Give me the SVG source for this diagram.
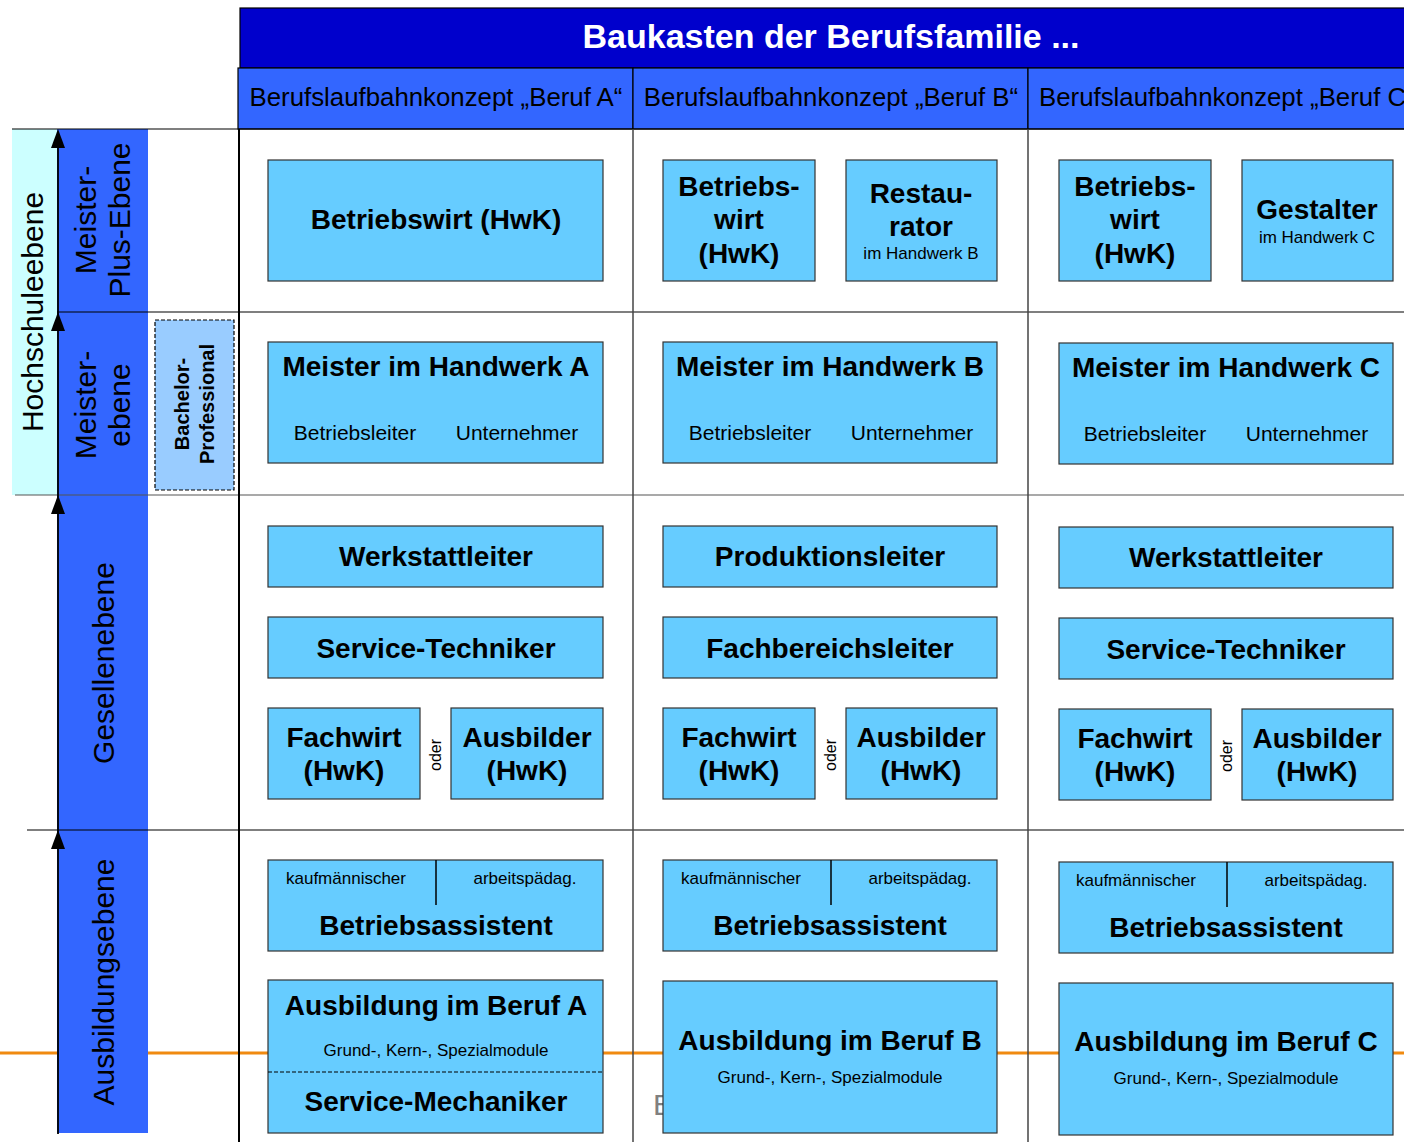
<svg xmlns="http://www.w3.org/2000/svg" width="1404" height="1142" viewBox="0 0 1404 1142">
<style>
text{font-family:"Liberation Sans",Arial,sans-serif;fill:#000}
.n{fill:#66CCFF;stroke:#333;stroke-width:1.2}
.b{font-weight:bold;font-size:28px;text-anchor:middle}
.s{font-size:17px;text-anchor:middle}
.m{font-size:21px;text-anchor:middle}
.h{font-size:25.8px;text-anchor:middle}
.lv{font-size:30px;text-anchor:middle}
.grid{stroke:#000;stroke-width:1.2;fill:none}
</style>
<defs>
<path id="ah" d="M0,0 L-7,19 L7,19 Z" fill="#000"/>
</defs>
<rect width="1404" height="1142" fill="#fff"/>
<line x1="0" y1="1053" x2="1404" y2="1053" stroke="#F08A10" stroke-width="3"/>
<text x="653" y="1115" style="font-size:30px;fill:#808080">E</text>

<g id="title">
<rect x="240" y="8" width="1170" height="60" fill="#0000CC" stroke="#000" stroke-width="1.2"/>
<text x="831" y="48" style="font-size:34px;font-weight:bold;fill:#fff;text-anchor:middle">Baukasten der Berufsfamilie ...</text>
</g>
<g id="headers">
<rect x="238" y="68" width="395" height="61" fill="#3366FF" stroke="#000" stroke-width="1.2"/>
<rect x="633" y="68" width="395" height="61" fill="#3366FF" stroke="#000" stroke-width="1.2"/>
<rect x="1028" y="68" width="390" height="61" fill="#3366FF" stroke="#000" stroke-width="1.2"/>
<text x="436" y="106" class="h">Berufslaufbahnkonzept „Beruf A“</text>
<text x="831" y="106" class="h">Berufslaufbahnkonzept „Beruf B“</text>
<text x="1039" y="106" style="font-size:25.8px">Berufslaufbahnkonzept „Beruf C“</text>
</g>

<g id="levels">
<rect x="12" y="129" width="45" height="366" fill="#CCFFFF"/>
<rect x="57" y="129" width="91" height="1004" fill="#3366FF"/>
<text transform="translate(43,312) rotate(-90)" class="lv">Hochschuleebene</text>
<text transform="translate(96,220) rotate(-90)" class="lv">Meister-</text>
<text transform="translate(130,220) rotate(-90)" class="lv">Plus-Ebene</text>
<text transform="translate(96,405) rotate(-90)" class="lv">Meister-</text>
<text transform="translate(130,405) rotate(-90)" class="lv">ebene</text>
<text transform="translate(114,663) rotate(-90)" class="lv">Gesellenebene</text>
<text transform="translate(114,982) rotate(-90)" class="lv">Ausbildungsebene</text>
</g>

<g id="grid">
<line x1="12" y1="129" x2="1404" y2="129" class="grid"/>
<line x1="57" y1="312" x2="1404" y2="312" class="grid"/>
<line x1="15" y1="495" x2="1404" y2="495" stroke="#555" stroke-width="1.2"/>
<line x1="27" y1="830" x2="1404" y2="830" class="grid"/>
<line x1="239" y1="129" x2="239" y2="1142" stroke="#000" stroke-width="2"/>
<line x1="633" y1="129" x2="633" y2="1142" stroke="#444" stroke-width="1.5"/>
<line x1="1028" y1="129" x2="1028" y2="1142" stroke="#444" stroke-width="1.5"/>
</g>

<g id="connectors">
<line x1="58" y1="135" x2="58" y2="1134" stroke="#000" stroke-width="1.8"/>
<use href="#ah" x="58" y="129"/>
<use href="#ah" x="58" y="312"/>
<use href="#ah" x="58" y="495"/>
<use href="#ah" x="58" y="830"/>
</g>

<g id="bachelor">
<rect x="155" y="320" width="79" height="170" fill="#99CCFF" stroke="#000" stroke-width="1.2" stroke-dasharray="4,2"/>
<text transform="translate(189,404) rotate(-90)" style="font-size:20px;font-weight:bold;text-anchor:middle">Bachelor-</text>
<text transform="translate(214,404) rotate(-90)" style="font-size:20px;font-weight:bold;text-anchor:middle">Professional</text>
</g>

<!-- Column A -->
<g id="a-betriebswirt"><rect x="268" y="160" width="335" height="121" class="n"/><text x="436" y="229" class="b">Betriebswirt (HwK)</text></g>
<g id="a-meister"><rect x="268" y="342" width="335" height="121" class="n"/><text x="436" y="376" class="b">Meister im Handwerk A</text><text x="355" y="440" class="m">Betriebsleiter</text><text x="517" y="440" class="m">Unternehmer</text></g>
<g id="a-werkstatt"><rect x="268" y="526" width="335" height="61" class="n"/><text x="436" y="566" class="b">Werkstattleiter</text></g>
<g id="a-service"><rect x="268" y="617" width="335" height="61" class="n"/><text x="436" y="658" class="b">Service-Techniker</text></g>
<g id="a-fachwirt"><rect x="268" y="708" width="152" height="91" class="n"/><text x="344" y="747" class="b">Fachwirt</text><text x="344" y="780" class="b">(HwK)</text></g>
<text transform="translate(441,755) rotate(-90)" style="font-size:16px;text-anchor:middle">oder</text>
<g id="a-ausbilder"><rect x="451" y="708" width="152" height="91" class="n"/><text x="527" y="747" class="b">Ausbilder</text><text x="527" y="780" class="b">(HwK)</text></g>
<g id="a-assistent"><rect x="268" y="860" width="335" height="91" class="n"/><line x1="436" y1="860" x2="436" y2="905" stroke="#000" stroke-width="1.5"/><text x="346" y="884" class="s">kaufmännischer</text><text x="525" y="884" class="s">arbeitspädag.</text><text x="436" y="935" class="b">Betriebsassistent</text></g>
<g id="a-ausbildung"><rect x="268" y="980" width="335" height="153" class="n"/><text x="436" y="1015" class="b">Ausbildung im Beruf A</text><text x="436" y="1056" class="s">Grund-, Kern-, Spezialmodule</text><line x1="268" y1="1072" x2="603" y2="1072" stroke="#000" stroke-width="1.2" stroke-dasharray="4,2"/><text x="436" y="1111" class="b">Service-Mechaniker</text></g>

<!-- Column B -->
<g id="b-betriebswirt"><rect x="663" y="160" width="152" height="121" class="n"/><text x="739" y="196" class="b">Betriebs-</text><text x="739" y="229" class="b">wirt</text><text x="739" y="263" class="b">(HwK)</text></g>
<g id="b-restaurator"><rect x="846" y="160" width="151" height="121" class="n"/><text x="921" y="203" class="b">Restau-</text><text x="921" y="236" class="b">rator</text><text x="921" y="259" class="s">im Handwerk B</text></g>
<g id="b-meister"><rect x="663" y="342" width="334" height="121" class="n"/><text x="830" y="376" class="b">Meister im Handwerk B</text><text x="750" y="440" class="m">Betriebsleiter</text><text x="912" y="440" class="m">Unternehmer</text></g>
<g id="b-produktion"><rect x="663" y="526" width="334" height="61" class="n"/><text x="830" y="566" class="b">Produktionsleiter</text></g>
<g id="b-fachbereich"><rect x="663" y="617" width="334" height="61" class="n"/><text x="830" y="658" class="b">Fachbereichsleiter</text></g>
<g id="b-fachwirt"><rect x="663" y="708" width="152" height="91" class="n"/><text x="739" y="747" class="b">Fachwirt</text><text x="739" y="780" class="b">(HwK)</text></g>
<text transform="translate(836,755) rotate(-90)" style="font-size:16px;text-anchor:middle">oder</text>
<g id="b-ausbilder"><rect x="846" y="708" width="151" height="91" class="n"/><text x="921" y="747" class="b">Ausbilder</text><text x="921" y="780" class="b">(HwK)</text></g>
<g id="b-assistent"><rect x="663" y="860" width="334" height="91" class="n"/><line x1="831" y1="860" x2="831" y2="905" stroke="#000" stroke-width="1.5"/><text x="741" y="884" class="s">kaufmännischer</text><text x="920" y="884" class="s">arbeitspädag.</text><text x="830" y="935" class="b">Betriebsassistent</text></g>
<g id="b-ausbildung"><rect x="663" y="981" width="334" height="152" class="n"/><text x="830" y="1050" class="b">Ausbildung im Beruf B</text><text x="830" y="1083" class="s">Grund-, Kern-, Spezialmodule</text></g>

<!-- Column C -->
<g id="c-betriebswirt"><rect x="1059" y="160" width="152" height="121" class="n"/><text x="1135" y="196" class="b">Betriebs-</text><text x="1135" y="229" class="b">wirt</text><text x="1135" y="263" class="b">(HwK)</text></g>
<g id="c-gestalter"><rect x="1242" y="160" width="151" height="121" class="n"/><text x="1317" y="219" class="b">Gestalter</text><text x="1317" y="243" class="s">im Handwerk C</text></g>
<g id="c-meister"><rect x="1059" y="343" width="334" height="121" class="n"/><text x="1226" y="377" class="b">Meister im Handwerk C</text><text x="1145" y="441" class="m">Betriebsleiter</text><text x="1307" y="441" class="m">Unternehmer</text></g>
<g id="c-werkstatt"><rect x="1059" y="527" width="334" height="61" class="n"/><text x="1226" y="567" class="b">Werkstattleiter</text></g>
<g id="c-service"><rect x="1059" y="618" width="334" height="61" class="n"/><text x="1226" y="659" class="b">Service-Techniker</text></g>
<g id="c-fachwirt"><rect x="1059" y="709" width="152" height="91" class="n"/><text x="1135" y="748" class="b">Fachwirt</text><text x="1135" y="781" class="b">(HwK)</text></g>
<text transform="translate(1232,756) rotate(-90)" style="font-size:16px;text-anchor:middle">oder</text>
<g id="c-ausbilder"><rect x="1242" y="709" width="151" height="91" class="n"/><text x="1317" y="748" class="b">Ausbilder</text><text x="1317" y="781" class="b">(HwK)</text></g>
<g id="c-assistent"><rect x="1059" y="862" width="334" height="91" class="n"/><line x1="1227" y1="862" x2="1227" y2="907" stroke="#000" stroke-width="1.5"/><text x="1136" y="886" class="s">kaufmännischer</text><text x="1316" y="886" class="s">arbeitspädag.</text><text x="1226" y="937" class="b">Betriebsassistent</text></g>
<g id="c-ausbildung"><rect x="1059" y="983" width="334" height="152" class="n"/><text x="1226" y="1051" class="b">Ausbildung im Beruf C</text><text x="1226" y="1084" class="s">Grund-, Kern-, Spezialmodule</text></g>
</svg>
